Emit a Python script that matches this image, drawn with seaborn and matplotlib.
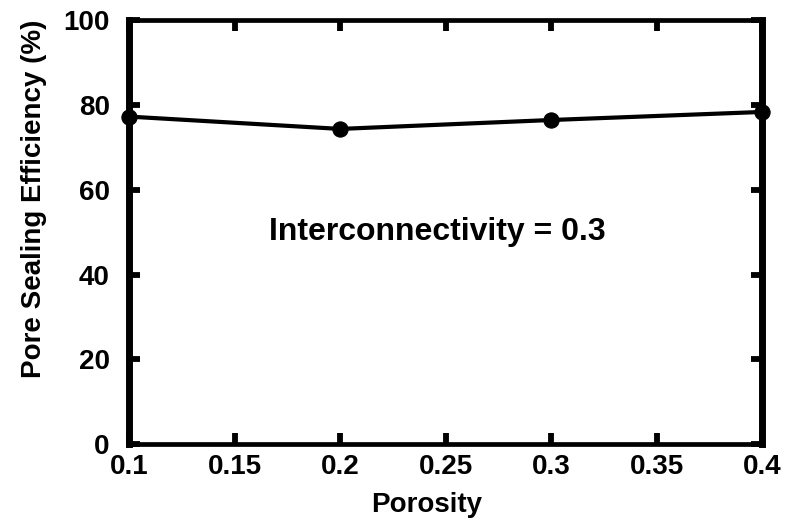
import matplotlib
matplotlib.use("Agg")
import matplotlib.pyplot as plt
import seaborn as sns
import pandas as pd

porosity = [0.1, 0.2, 0.3, 0.4]
efficiency = [77.2, 74.3, 76.4, 78.3]
x_ticks = [0.1, 0.15, 0.2, 0.25, 0.3, 0.35, 0.4]
x_tick_labels = ["0.1", "0.15", "0.2", "0.25", "0.3", "0.35", "0.4"]
y_ticks = [0, 20, 40, 60, 80, 100]
annotation = "Interconnectivity = 0.3"

sns.set_theme(style="white")
plt.rcParams["font.family"] = ["Liberation Sans", "DejaVu Sans"]
plt.rcParams["font.weight"] = "bold"

df = pd.DataFrame({"Porosity": porosity, "Efficiency": efficiency})

fig = plt.figure(figsize=(7.93, 5.21), dpi=100)
ax = fig.add_axes([0.163, 0.147, 0.798, 0.815])

sns.lineplot(data=df, x="Porosity", y="Efficiency", ax=ax, color="black",
             linewidth=3, marker="o", markersize=11, markeredgecolor="black",
             clip_on=False, zorder=5)

ax.set_xlim(0.1, 0.4)
ax.set_ylim(0, 100)
ax.set_xticks(x_ticks)
ax.set_xticklabels(x_tick_labels)
ax.set_yticks(y_ticks)

for side, s in ax.spines.items():
    s.set_visible(True)
    s.set_color("black")
    s.set_linewidth(5 if side in ("left", "right") else 3.4)

ax.tick_params(axis="both", which="major", direction="in", length=8, width=4.2,
               color="black", labelsize=20, top=True, right=True, bottom=True,
               left=True, labelcolor="black")
ax.tick_params(axis="x", pad=7)
ax.tick_params(axis="y", pad=14)
for lab in ax.get_xticklabels() + ax.get_yticklabels():
    lab.set_fontweight("bold")

ax.set_xlabel("Porosity", fontsize=20, fontweight="bold", color="black")
ax.xaxis.set_label_coords(0.47, -0.113)
ax.set_ylabel("Pore Sealing Efficiency (%)", fontsize=20, fontweight="bold",
              color="black")
ax.yaxis.set_label_coords(-0.13, 0.578)

ax.text(0.246, 50, annotation, ha="center", va="center", fontsize=23,
        fontweight="bold", color="black")

fig.savefig("out.png", dpi=100)
